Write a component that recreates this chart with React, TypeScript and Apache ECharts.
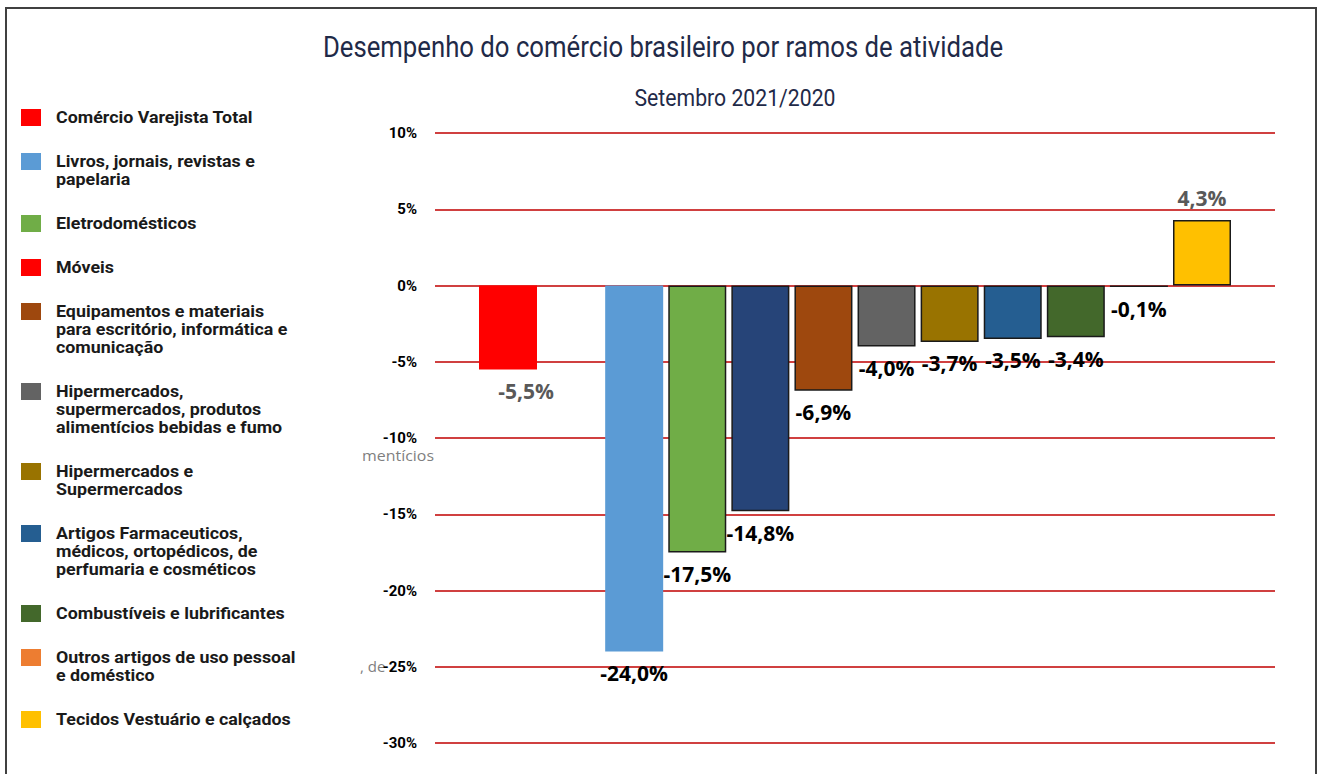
import React, { useEffect, useRef } from "react";
import * as echarts from "echarts";

const titleText = "Desempenho do comércio brasileiro por ramos de atividade";
const subtitleText = "Setembro 2021/2020";

// Bars (left to right); null = no bar
const barNames = [
  "Comércio Varejista Total",
  "Móveis (sem dado)",
  "Livros, jornais, revistas e papelaria",
  "Eletrodomésticos",
  "Móveis",
  "Equipamentos e materiais para escritório, informática e comunicação",
  "Hipermercados, supermercados, produtos alimentícios bebidas e fumo",
  "Hipermercados e Supermercados",
  "Artigos Farmaceuticos, médicos, ortopédicos, de perfumaria e cosméticos",
  "Combustíveis e lubrificantes",
  "Outros artigos de uso pessoal e doméstico",
  "Tecidos Vestuário e calçados",
];
const barValues: (number | null)[] = [-5.5, null, -24.0, -17.5, -14.8, -6.9, -4.0, -3.7, -3.5, -3.4, -0.1, 4.3];
const barColors = ["#FF0000", "#FF0000", "#5B9BD5", "#70AD47", "#264478", "#9E480E", "#636363", "#997300", "#255E91", "#43682B", "#262626", "#FFC000"];
const barBordered = [false, false, false, true, true, true, true, true, true, true, true, true];
const labelGray = [true, false, false, false, false, false, false, false, false, false, false, true];

// Legend
const legendNames = [
  "Comércio Varejista Total",
  "Livros, jornais, revistas e\npapelaria",
  "Eletrodomésticos",
  "Móveis",
  "Equipamentos e materiais\npara escritório, informática e\ncomunicação",
  "Hipermercados,\nsupermercados, produtos\nalimentícios bebidas e fumo",
  "Hipermercados e\nSupermercados",
  "Artigos Farmaceuticos,\nmédicos, ortopédicos, de\nperfumaria e cosméticos",
  "Combustíveis e lubrificantes",
  "Outros artigos de uso pessoal\ne doméstico",
  "Tecidos Vestuário e calçados",
];
const legendColors = ["#FF0000", "#5B9BD5", "#70AD47", "#FF0000", "#9E480E", "#636363", "#997300", "#255E91", "#43682B", "#ED7D31", "#FFC000"];

// Y axis
const yMin = -30;
const yMax = 10;
const yStep = 5;

const fmt = (v: number) => v.toFixed(1).replace(".", ",") + "%";

function measure(text: string, font: string): number {
  const c = document.createElement("canvas").getContext("2d")!;
  c.font = font;
  return c.measureText(text).width || 1;
}

export default function App() {
  const ref = useRef<HTMLDivElement>(null);
  useEffect(() => {
    document.body.style.margin = "0";
    const chart = echarts.init(ref.current!, null, { renderer: "svg" });

    const titleFont = "29px Roboto";
    const subFont = "24px Roboto";
    const legendFont = "bold 16px Roboto";
    const strayFont = "15px 'Open Sans'";
    const titleScale = 680 / measure(titleText, titleFont);
    const subScale = 201 / measure(subtitleText, subFont);
    const legendScale = 197 / measure(legendNames[0], legendFont);
    const strayScale = 72 / measure("mentícios", strayFont);

    const legendGraphics: any[] = [];
    let y = 117;
    legendNames.forEach((name, i) => {
      const lines = name.split("\n").length;
      legendGraphics.push({
        type: "rect",
        shape: { x: 21, y: y - 8, width: 20, height: 17 },
        style: { fill: legendColors[i] },
      });
      legendGraphics.push({
        type: "text",
        x: 56,
        y: y - 9,
        scaleX: legendScale,
        style: {
          text: name,
          font: legendFont,
          fill: "#1a1a1a",
          lineHeight: 18,
          verticalAlign: "top",
        },
      });
      y += (lines - 1) * 18 + 44;
    });

    const n = barValues.length;
    const pad = 1.157;

    chart.setOption({
      animation: false,
      backgroundColor: "#fff",
      grid: { left: 435, right: 47, top: 133, bottom: 31 },
      xAxis: { type: "value", min: -pad, max: n - 1 + pad, show: false },
      yAxis: {
        type: "value",
        min: yMin,
        max: yMax,
        interval: yStep,
        axisLine: { show: false },
        axisTick: { show: false },
        axisLabel: { formatter: (v: number) => v + "%", fontFamily: "Roboto", fontWeight: "bold", fontSize: 15, color: "#000", margin: 18 },
        splitLine: { lineStyle: { color: "#C00000", width: 1.5 } },
      },
      series: [
        {
          type: "bar",
          barWidth: 58,
          data: barValues.map((v, i) => ({
            name: barNames[i],
            value: [i, v],
            itemStyle: {
              color: barColors[i],
              borderColor: barBordered[i] ? "#1a1a1a" : "transparent",
              borderWidth: barBordered[i] ? 1.5 : 0,
            },
            label: {
              show: v !== null,
              position: v !== null && v >= 0 ? "top" : "bottom",
              distance: 11,
              offset: i === 0 ? [18, 0] : [0, 0],
              formatter: () => (v === null ? "" : fmt(v)),
              fontFamily: "'Open Sans'",
              fontWeight: "bold",
              fontSize: 21,
              color: labelGray[i] ? "#595959" : "#000",
            },
          })),
        },
      ],
      graphic: [
        {
          type: "rect",
          shape: { x: 6, y: 8, width: 1310, height: 780 },
          style: { fill: "none", stroke: "#404040", lineWidth: 2 },
          silent: true,
        },
        {
          type: "text",
          x: 663,
          y: 47,
          scaleX: titleScale,
          style: { text: titleText, font: titleFont, fill: "#1F2A48", align: "center", verticalAlign: "middle" },
        },
        {
          type: "text",
          x: 735,
          y: 98,
          scaleX: subScale,
          style: { text: subtitleText, font: subFont, fill: "#1F2A48", align: "center", verticalAlign: "middle" },
        },
        ...legendGraphics,
        {
          type: "text",
          x: 362,
          y: 447,
          scaleX: strayScale,
          style: { text: "mentícios", font: strayFont, fill: "#7f7f7f", verticalAlign: "top", lineHeight: 16 },
        },
        {
          type: "text",
          x: 360,
          y: 666,
          style: { text: ", de", font: "15px 'Open Sans'", fill: "#7f7f7f", verticalAlign: "middle" },
        },
      ],
    });
    return () => chart.dispose();
  }, []);
  return <div ref={ref} style={{ width: 1322, height: 774 }} />;
}
